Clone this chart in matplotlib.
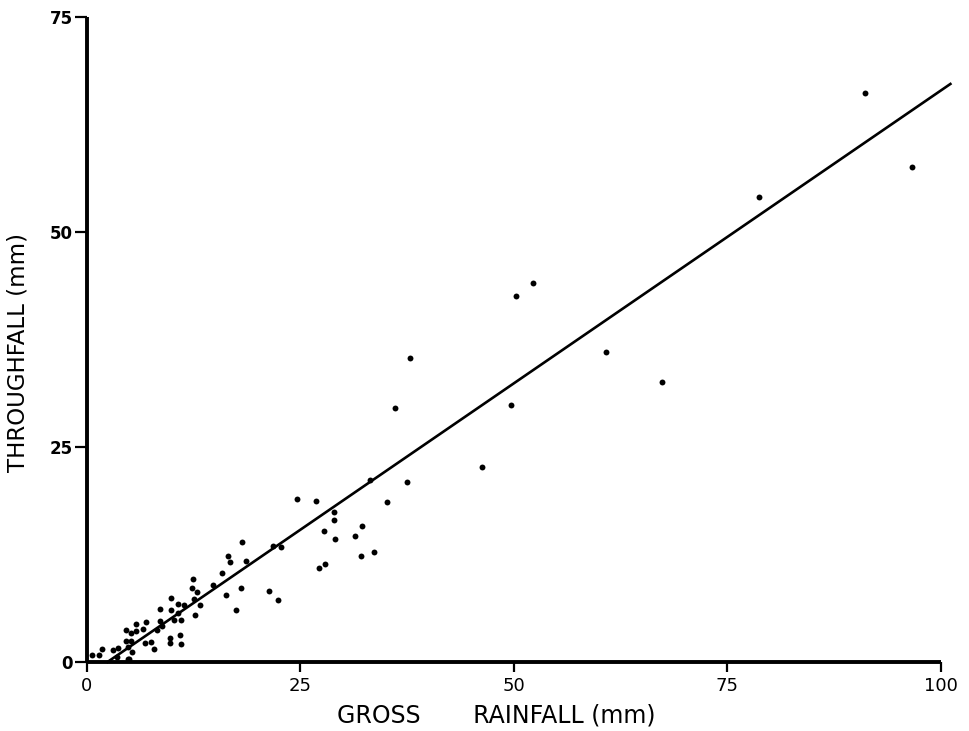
import matplotlib
matplotlib.use("Agg")
import matplotlib.pyplot as plt

# gross rainfall (mm) and throughfall (mm) for each storm
gross = [0.6, 1.4, 1.8, 3.0, 3.6, 3.5, 4.6, 4.6, 5.1, 5.1, 4.8, 4.9, 5.3, 4.8,
         5.7, 5.7, 6.6, 6.9, 6.8, 7.5, 7.8, 8.2, 8.6, 8.6, 8.8, 9.7, 9.7,
         10.9, 11.0, 9.8, 9.8, 10.2, 10.6, 11.0, 10.7, 11.4, 12.4, 12.3,
         12.9, 12.5, 13.2, 12.6, 14.8, 15.8, 16.5, 16.8, 18.1, 18.6, 18.0,
         16.3, 17.5, 21.3, 22.4, 21.8, 22.7,
         24.6, 26.8, 28.9, 28.9, 27.7, 29.0, 31.4, 32.2, 33.1, 37.5, 35.1,
         32.1, 33.6, 27.2, 27.9,
         36.1, 37.8, 46.2, 49.7, 50.2, 52.2, 60.8, 67.3, 78.7, 91.1, 96.6]
through = [0.8, 0.8, 1.5, 1.4, 1.6, 0.6, 3.7, 2.5, 3.4, 2.5, 1.7, 0.4, 1.2, 0.3,
           4.4, 3.6, 3.8, 4.7, 2.2, 2.3, 1.5, 3.7, 4.8, 6.2, 4.2, 2.8, 2.2,
           3.1, 2.1, 6.0, 7.4, 4.9, 6.7, 4.9, 5.7, 6.6, 9.7, 8.6,
           8.1, 7.3, 6.6, 5.5, 8.9, 10.4, 12.3, 11.6, 13.9, 11.8, 8.6,
           7.8, 6.0, 8.2, 7.2, 13.5, 13.4,
           19.0, 18.7, 17.5, 16.5, 15.2, 14.3, 14.6, 15.8, 21.2, 20.9, 18.6,
           12.3, 12.8, 10.9, 11.4,
           29.5, 35.3, 22.7, 29.9, 42.6, 44.1, 36.0, 32.6, 54.1, 66.2, 57.6]

# fitted line: throughfall = slope * (gross - x_start)
fit_slope = 0.681
fit_start = 2.4
fit_end = 101.1

x_ticks = [0, 25, 50, 75, 100]
y_ticks = [0, 25, 50, 75]

fig = plt.figure(figsize=(9.7, 7.31), dpi=100)
ax = fig.add_axes([87 / 970, 1 - 662 / 731, (941 - 87) / 970, (662 - 17) / 731])

ax.scatter(gross, through, s=18, color="black", zorder=3, linewidths=0)
ax.plot([fit_start, fit_end],
        [0, fit_slope * (fit_end - fit_start)],
        color="black", lw=1.9, clip_on=False, zorder=2)

ax.set_xlim(0, 100)
ax.set_ylim(0, 75)
ax.spines["top"].set_visible(False)
ax.spines["right"].set_visible(False)
for s in ("left", "bottom"):
    ax.spines[s].set_linewidth(2.8)
    ax.spines[s].set_capstyle("butt")

ax.set_xticks(x_ticks)
ax.set_xticklabels([str(v) for v in x_ticks])
ax.set_yticks(y_ticks)
ax.set_yticklabels([str(v) for v in y_ticks], fontweight="bold")
ax.tick_params(axis="x", direction="out", length=7, width=1.6, labelsize=13, pad=4)
ax.tick_params(axis="y", direction="out", length=9, width=1.6, labelsize=12, pad=1)

fig.text(496 / 970, 1 - 715 / 731, "GROSS       RAINFALL (mm)",
         ha="center", va="center", fontsize=17)
fig.text(18 / 970, 1 - 352 / 731, "THROUGHFALL (mm)",
         ha="center", va="center", rotation=90, fontsize=16.5)

fig.savefig("out.png", dpi=100, facecolor="white")
